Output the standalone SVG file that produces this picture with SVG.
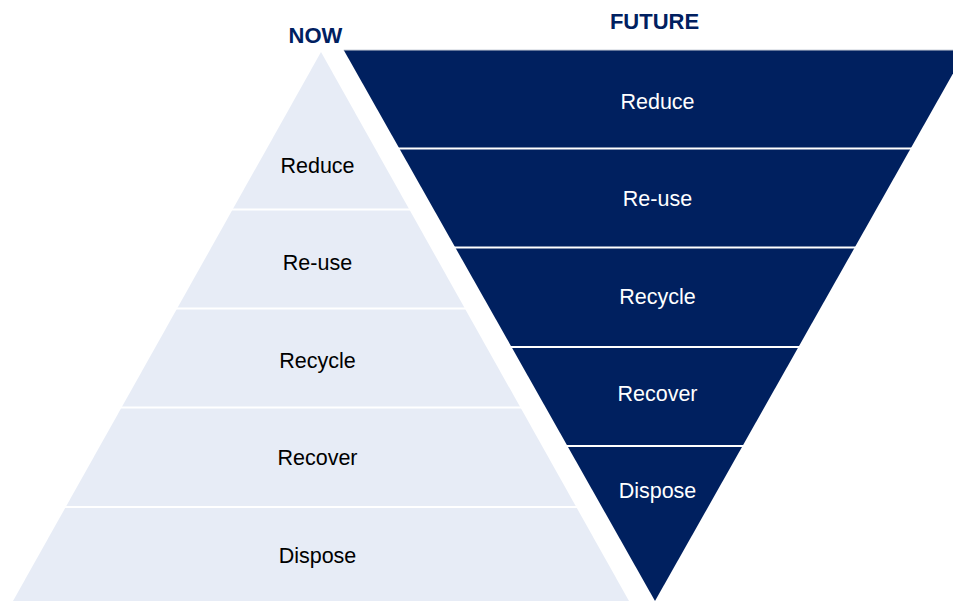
<svg xmlns="http://www.w3.org/2000/svg" width="953" height="601" viewBox="0 0 953 601">
<style>
.now{fill:#E7ECF6}
.fut{fill:#00205F}
.sep{stroke:#FFFFFF;stroke-width:2}
.t{font-family:"Liberation Sans",Arial,sans-serif;font-size:21.5px;text-anchor:middle}
.tl{fill:#000000}
.tr{fill:#FFFFFF}
.h{font-family:"Liberation Sans",Arial,sans-serif;font-size:22px;font-weight:bold;fill:#002060;text-anchor:middle}
</style>
<rect width="953" height="601" fill="#FFFFFF"/>
<g id="now-pyramid">
<polygon class="now" points="321,52 629,601 13,601"/>
<g id="now-reduce"><text class="t tl" x="317.5" y="173">Reduce</text></g>
<g id="now-reuse"><line class="sep" x1="231" y1="209.5" x2="411" y2="209.5"/><text class="t tl" x="317.5" y="270">Re-use</text></g>
<g id="now-recycle"><line class="sep" x1="175" y1="308.5" x2="467" y2="308.5"/><text class="t tl" x="317.5" y="368">Recycle</text></g>
<g id="now-recover"><line class="sep" x1="120" y1="407.5" x2="522" y2="407.5"/><text class="t tl" x="317.5" y="465">Recover</text></g>
<g id="now-dispose"><line class="sep" x1="64" y1="507" x2="578" y2="507"/><text class="t tl" x="317.5" y="563">Dispose</text></g>
</g>
<g id="future-pyramid">
<polygon class="fut" points="343.7,50 966.3,50 655,601"/>
<line x1="343.7" y1="50" x2="953" y2="50" stroke="#C9CED8" stroke-width="1"/>
<g id="fut-reduce"><text class="t tr" x="657.5" y="109">Reduce</text></g>
<g id="fut-reuse"><line class="sep" x1="398" y1="148.5" x2="912" y2="148.5"/><text class="t tr" x="657.5" y="206">Re-use</text></g>
<g id="fut-recycle"><line class="sep" x1="454" y1="247.5" x2="856" y2="247.5"/><text class="t tr" x="657.5" y="304">Recycle</text></g>
<g id="fut-recover"><line class="sep" x1="510" y1="347" x2="800" y2="347"/><text class="t tr" x="657.5" y="401">Recover</text></g>
<g id="fut-dispose"><line class="sep" x1="566" y1="446" x2="744" y2="446"/><text class="t tr" x="657.5" y="498">Dispose</text></g>
</g>
<g id="headers">
<text class="h" x="315.5" y="43">NOW</text>
<text class="h" x="654.5" y="29">FUTURE</text>
</g>
<g id="connectors"/>
</svg>
